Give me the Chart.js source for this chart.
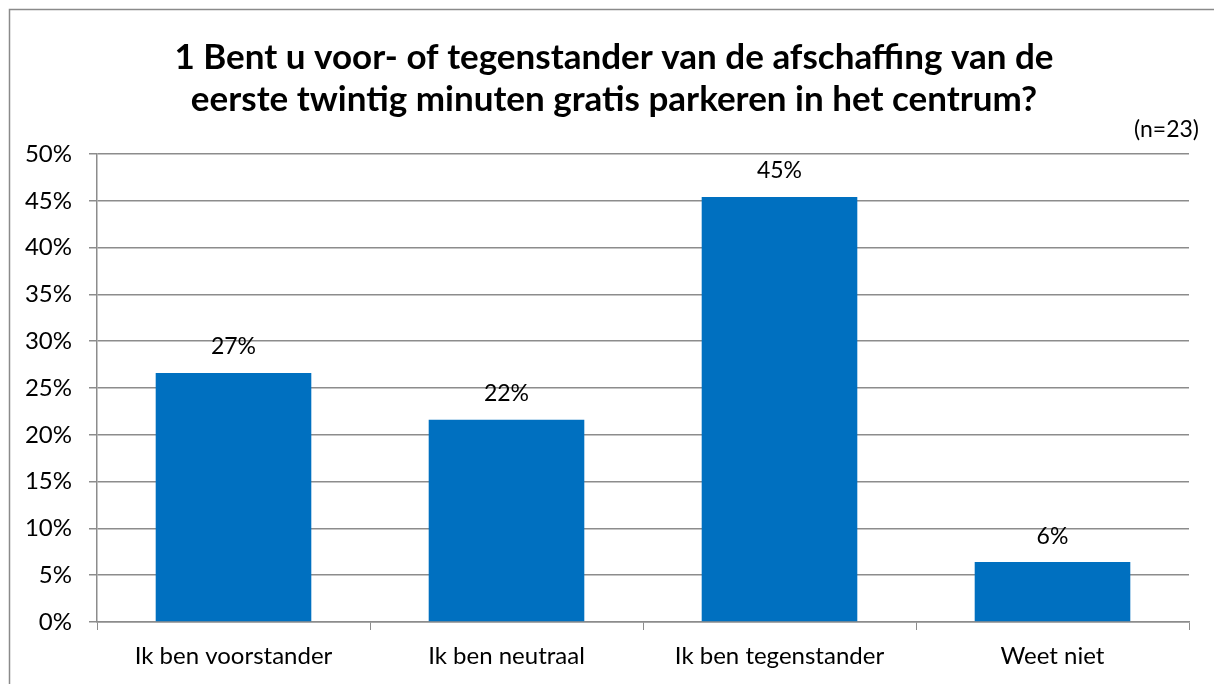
<!DOCTYPE html>
<html>
<head>
<meta charset="utf-8">
<script src="https://cdn.jsdelivr.net/npm/chart.js@4/dist/chart.umd.min.js"></script>
<style>
  html, body { margin: 0; padding: 0; background: #fff; }
  #wrap { width: 1214px; height: 684px; position: relative; }
</style>
</head>
<body>
<div id="wrap"><canvas id="c"></canvas></div>
<script>
// ── Data ────────────────────────────────────────────────
const categories = ['Ik ben voorstander', 'Ik ben neutraal', 'Ik ben tegenstander', 'Weet niet'];
const values     = [26.6, 21.6, 45.4, 6.4];
const valueLabels = ['27%', '22%', '45%', '6%'];
const titleLines = ['1 Bent u voor- of tegenstander van de afschaffing van de',
                    'eerste twintig minuten gratis parkeren in het centrum?'];
const sampleNote = '(n=23)';

const FONT = "Lato, 'Open Sans', sans-serif";
const GRID = '#8c8c8c';
const BAR  = '#0070C0';

// chart frame, title, n note, value labels
const extras = {
  id: 'extras',
  beforeDraw(chart) {
    const ctx = chart.ctx;
    ctx.save();
    ctx.fillStyle = '#fff';
    ctx.fillRect(0, 0, chart.width, chart.height);
    ctx.strokeStyle = '#8a8a8a';
    ctx.lineWidth = 1.5;
    ctx.strokeRect(9.5, 9.5, chart.width + 20, chart.height + 20);

    // title centred on the frame
    ctx.fillStyle = '#000';
    ctx.font = 'bold 35px ' + FONT;
    ctx.textAlign = 'center';
    ctx.textBaseline = 'middle';
    titleLines.forEach((line, i) => ctx.fillText(line, 614, 58 + i * 42));
    ctx.restore();
  },
  afterDatasetsDraw(chart) {
    const ctx = chart.ctx;
    const ca = chart.chartArea;
    ctx.save();
    ctx.fillStyle = '#000';
    ctx.font = '23px ' + FONT;
    ctx.textAlign = 'right';
    ctx.textBaseline = 'middle';
    ctx.fillText(sampleNote, ca.right + 10, 130);

    ctx.textAlign = 'center';
    chart.getDatasetMeta(0).data.forEach((bar, i) => {
      ctx.fillText(valueLabels[i], bar.x, bar.y - 26);
    });
    ctx.restore();
  }
};

new Chart(document.getElementById('c'), {
  type: 'bar',
  data: {
    labels: categories,
    datasets: [{
      data: values,
      backgroundColor: BAR,
      borderWidth: 0,
      barPercentage: 0.57,
      categoryPercentage: 1,
    }]
  },
  plugins: [extras],
  options: {
    responsive: true,
    maintainAspectRatio: false,
    animation: false,
    layout: { padding: { left: 0, right: 25, top: 154, bottom: 0 } },
    plugins: {
      legend: { display: false },
      tooltip: { enabled: false },
      title: { display: false },
    },
    scales: {
      x: {
        afterFit: (s) => { s.height = 62; },
        grid: { display: true, drawOnChartArea: false, drawTicks: true, tickLength: 8, color: GRID, offset: true },
        border: { color: GRID, width: 1.5 },
        ticks: { color: '#000', font: { family: FONT, size: 24 }, padding: 12 },
      },
      y: {
        min: 0,
        max: 50,
        afterFit: (s) => { s.width = 97; },
        grid: { color: GRID, lineWidth: 1.5, tickLength: 8 },
        border: { color: GRID, width: 1.5 },
        ticks: {
          stepSize: 5,
          color: '#000',
          font: { family: FONT, size: 24 },
          padding: 17,
          callback: (v) => v + '%',
        },
      },
    },
  },
});
</script>
</body>
</html>
